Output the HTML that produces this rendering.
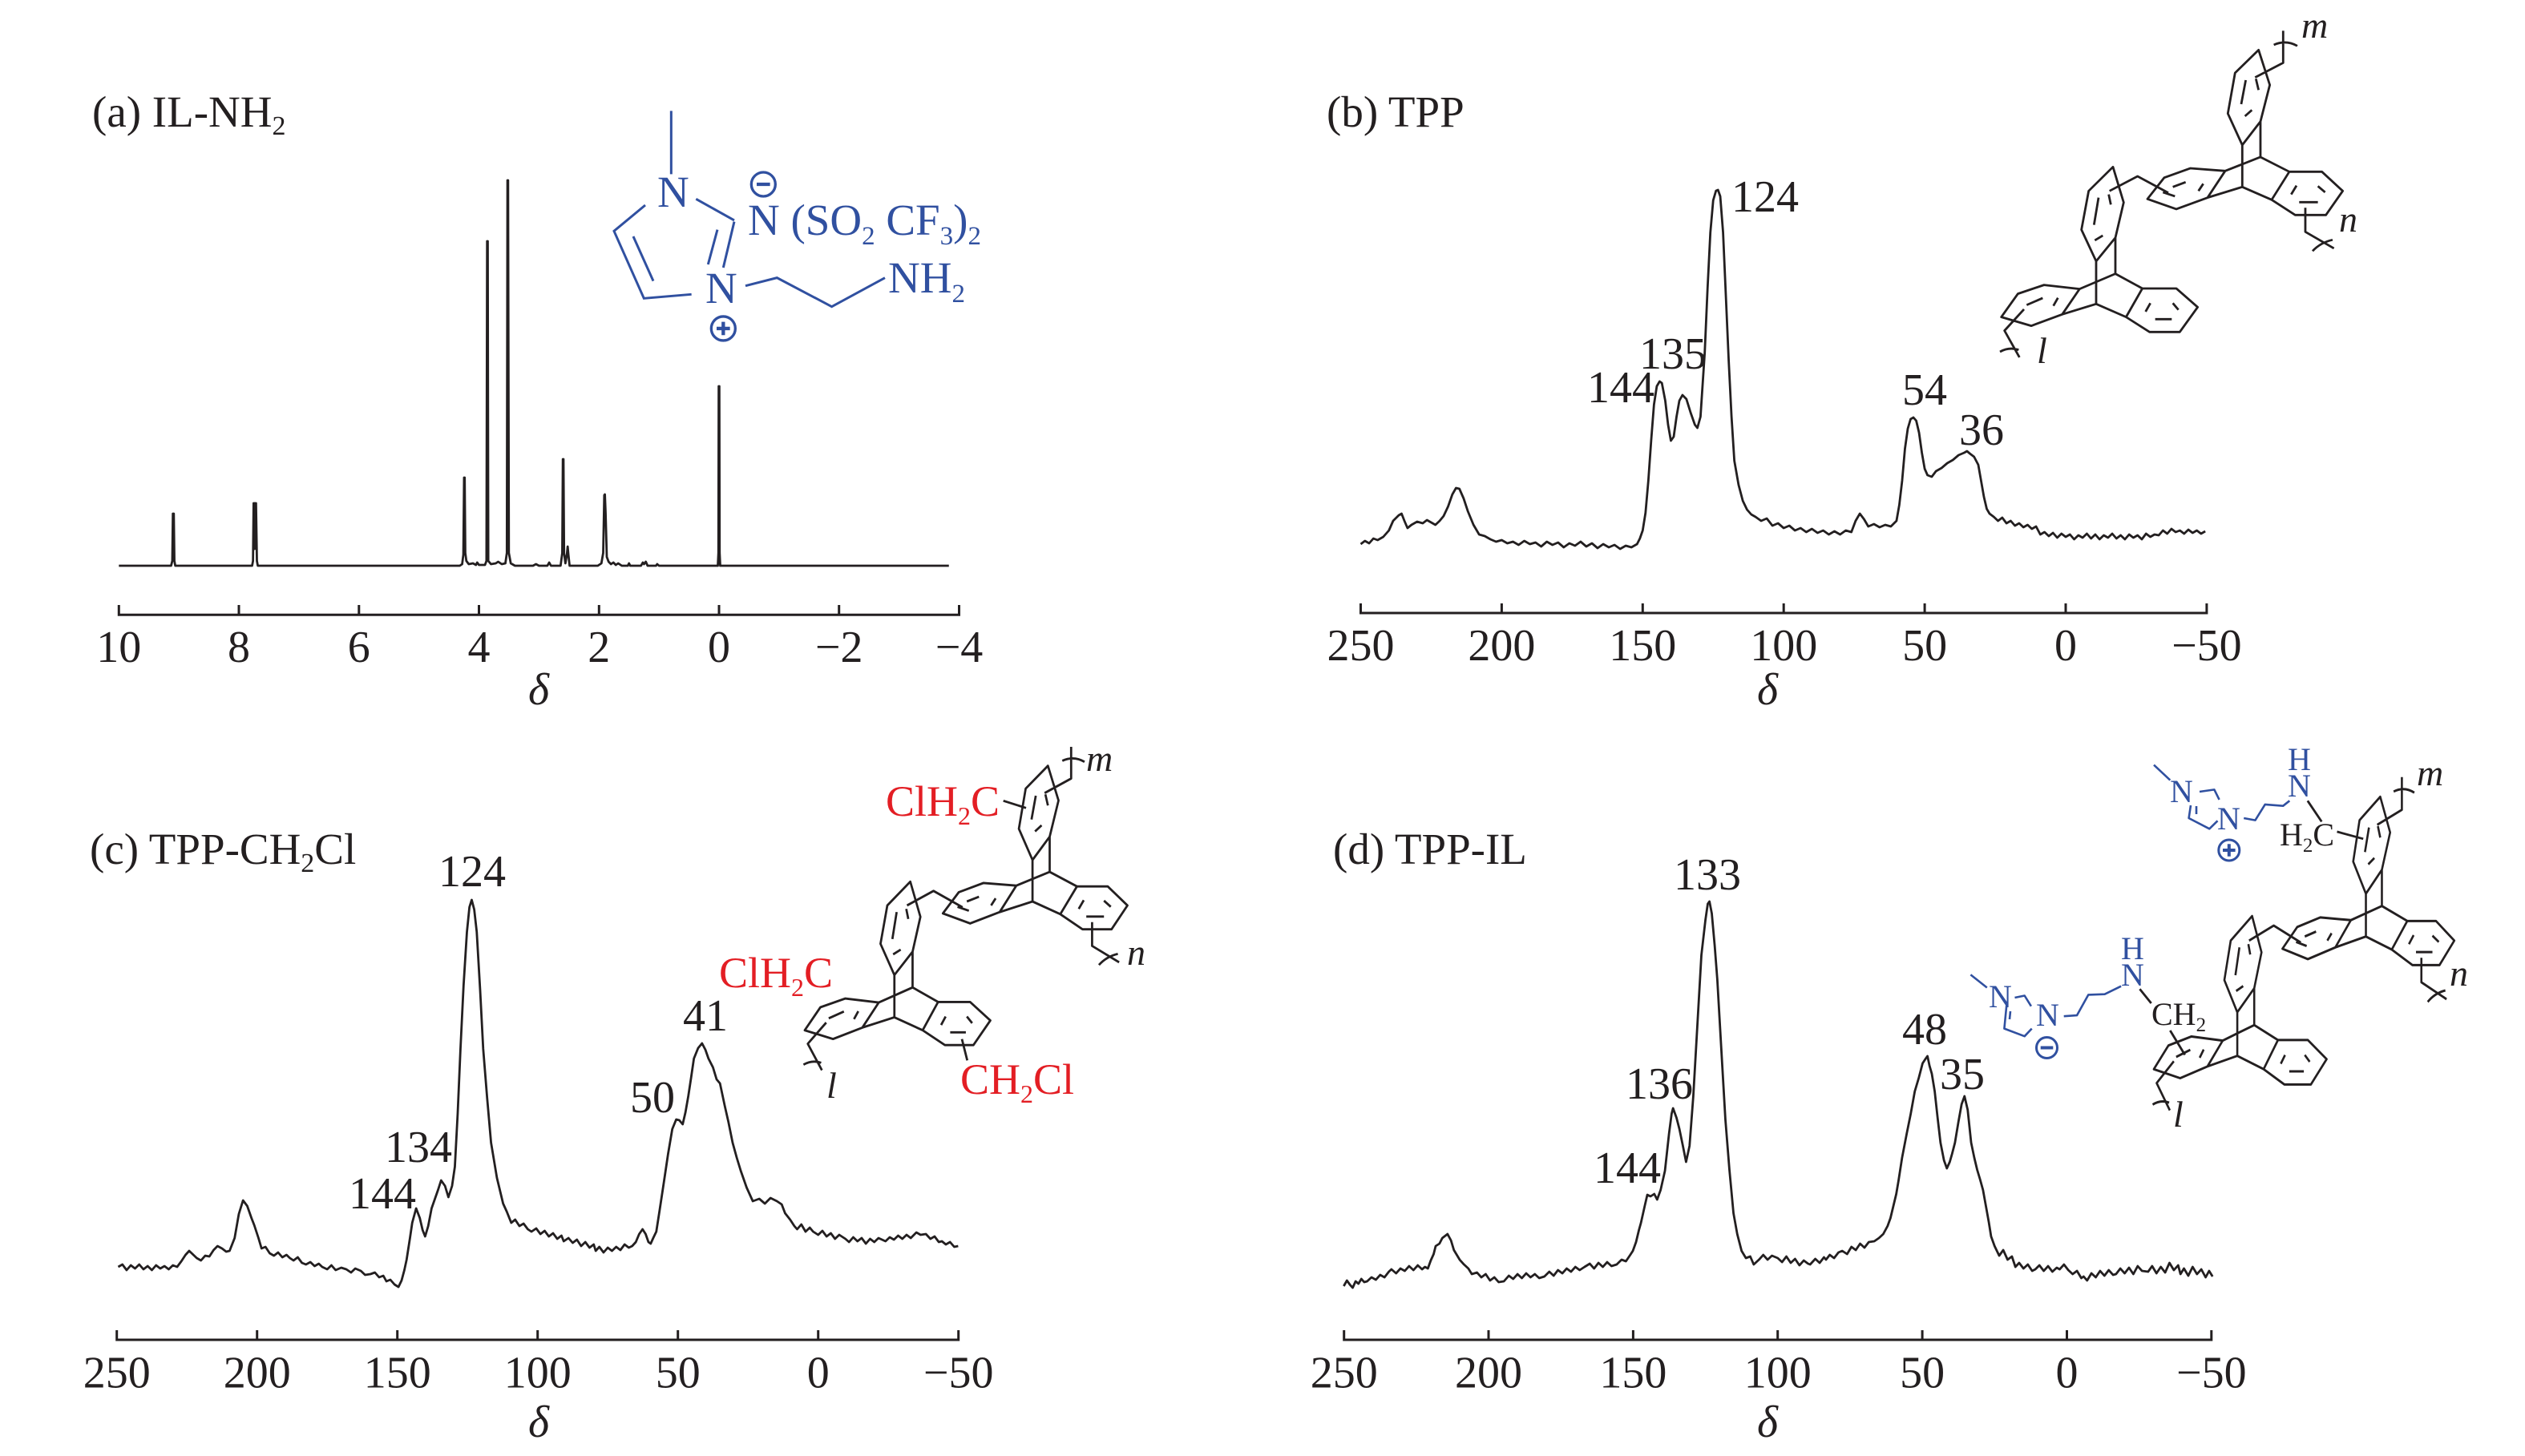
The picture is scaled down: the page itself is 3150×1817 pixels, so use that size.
<!DOCTYPE html>
<html><head><meta charset="utf-8"><style>
html,body{margin:0;padding:0;background:#fff;overflow:hidden}
svg{display:block}
text{font-family:"Liberation Serif","DejaVu Serif",serif;fill:#231f20}
.t{font-size:55px}
.k{font-size:56px}
.d{font-size:56px;font-style:italic}
.p{font-size:56px}
.it{font-size:46px;font-style:italic}
.bl{fill:#3050a0}
.rd{fill:#e31e24}
</style></head><body>
<svg width="3150" height="1817" viewBox="0 0 3150 1817" xmlns="http://www.w3.org/2000/svg">
<rect width="3150" height="1817" fill="#fff"/>
<defs>
<path id="tp" d="M1073 127 L1115 258 L1080 395 L1012 483 L958 365 L985 213 Z
M1025 240 L1008 330 M1048 352 L1022 375 M1063 235 L1073 277
M1012 483 L1012 640 M1080 395 L1080 528
M948 580 L1080 528 L1188 583
M882 680 L1012 640 L1122 688
M818 570 L948 580 L882 680 L765 723 L657 685 L720 605 Z
M752 640 L800 622 M848 655 L866 628 M715 660 L760 675
M1188 583 L1310 583 L1388 655 L1325 745 L1210 745 L1122 688 Z
M1195 668 L1215 635 M1295 637 L1322 660 M1225 697 L1295 697
M1248 718 L1248 808 L1355 870 M1275 880 Q1305 848 1350 838
M1060 230 L1165 175 L1165 55 M1130 108 Q1175 88 1218 112
M515 655 L620 600 L735 662
M528 565 L568 698 L537 830 L465 918 L410 800 L437 655 Z
M474 680 L457 782 M490 822 L460 840 M512 668 L520 706
M465 918 L465 1078 M537 830 L537 965
M403 1022 L537 965 L638 1020
M338 1117 L465 1078 L577 1127
M270 1007 L403 1022 L338 1117 L222 1160 L110 1127 L172 1040 Z
M205 1082 L265 1056 M305 1085 L322 1055
M195 1098 L122 1178 L178 1278 M105 1257 Q140 1238 175 1250
M638 1020 L765 1020 L845 1090 L778 1183 L665 1183 L577 1127 Z
M650 1107 L668 1075 M752 1075 L773 1100 M686 1135 L748 1135"/>
</defs>

<!-- ============ Panel (a) ============ -->
<text class="t" x="115" y="158">(a) IL-NH<tspan font-size="34" dy="10">2</tspan></text>
<g transform="matrix(-74.87 0 0 1 897 0)" fill="none" stroke="#231f20">
<path vector-effect="non-scaling-stroke" stroke-width="2.8" stroke-linejoin="round" d="M10 706 L9.13 706 L9.11 700 L9.10 641 L9.085 641 L9.075 700 L9.06 706 L7.78 706 L7.765 700 L7.755 628 L7.745 628 L7.737 685 L7.728 628 L7.715 628 L7.70 700 L7.685 706 L4.32 706 L4.28 704 L4.26 692 L4.248 596 L4.238 596 L4.228 690 L4.21 700 L4.17 704 L4.10 703 L4.05 705 L4.03 702 L4.00 705 L3.90 705 L3.875 700 L3.864 301 L3.854 301 L3.845 700 L3.80 704 L3.72 703 L3.68 701 L3.62 704 L3.56 703 L3.535 690 L3.525 225 L3.515 225 L3.502 690 L3.47 703 L3.40 706 L3.1 706 L3.05 704 L3.0 706 L2.86 706 L2.83 702 L2.80 706 L2.64 706 L2.612 690 L2.602 573 L2.592 573 L2.582 690 L2.56 703 L2.535 692 L2.522 682 L2.51 692 L2.49 706 L2.02 706 L1.96 703 L1.93 690 L1.912 618 L1.902 617 L1.89 640 L1.87 695 L1.84 701 L1.80 704 L1.76 702 L1.72 705 L1.68 703 L1.62 706 L1.52 706 L1.50 703 L1.48 706 L1.30 706 L1.27 702 L1.25 704 L1.22 701 L1.19 706 L1.05 706 L1.03 704 L1.0 706 L0.02 706 L0.01 690 L0.005 482 L-0.005 482 L-0.01 690 L-0.02 706 L-3.83 706"/>
</g>
<path fill="none" stroke="#231f20" stroke-width="3" d="M148.3 755V767.3H1196.5V755 M298 767.3V755 M447.8 767.3V755 M597.5 767.3V755 M747.3 767.3V755 M897 767.3V755 M1046.7 767.3V755"/>
<g class="k" text-anchor="middle">
<text x="148.3" y="826">10</text><text x="298" y="826">8</text><text x="447.8" y="826">6</text><text x="597.5" y="826">4</text><text x="747.3" y="826">2</text><text x="897" y="826">0</text><text x="1046.7" y="826">−2</text><text x="1196.5" y="826">−4</text>
</g>
<text class="d" x="672" y="879" text-anchor="middle">δ</text>
<!-- structure a -->
<g transform="matrix(0.3333 0 0 0.3333 740 120)" stroke="#3050a0" stroke-width="9" fill="none">
<path d="M292 55V292 M385 385L528 465 M528 470L487 642 M465 500L430 630 M368 742L190 757L78 505L195 408 M150 525L225 692 M570 710L688 680L893 788L1092 680"/>
<circle cx="637" cy="330" r="45" stroke-width="10"/><path d="M612 330H662" stroke-width="13"/>
<circle cx="487" cy="870" r="45" stroke-width="10"/><path d="M462 870H512M487 845V895" stroke-width="13"/>
</g>
<g class="t">
<text class="bl" x="820" y="258">N</text>
<text class="bl" x="880" y="378">N</text>
<text class="bl" x="933" y="293">N (SO<tspan font-size="33" dy="12">2</tspan><tspan dy="-12"> CF</tspan><tspan font-size="33" dy="12">3</tspan><tspan dy="-12">)</tspan><tspan font-size="33" dy="12">2</tspan></text>
<text class="bl" x="1108" y="365">NH<tspan font-size="33" dy="12">2</tspan></text>
</g>

<!-- ============ Panel (b) ============ -->
<text class="t" x="1655" y="158">(b) TPP</text>
<g transform="matrix(-3.518 0 0 1 2577 0)" fill="none" stroke="#231f20">
<path vector-effect="non-scaling-stroke" stroke-width="2.8" stroke-linejoin="round" d="M250 679 L248.5 675 L247 678 L245.5 672 L244 674 L242 670 L240 662 L238.5 650 L236.5 643 L235.5 641 L234.5 650 L233.4 659 L232 655 L230 651 L228 653 L226.5 649 L225 652 L223.5 655 L222 650 L220.6 644 L219 632 L217.5 617 L216.2 609 L215 610 L213.5 622 L212 638 L210 655 L208 667 L206 669 L204 673 L202 676 L200 674 L198 678 L196 676 L194 680 L192 675 L190 679 L188 677 L186 682 L184 676 L182 680 L180 677 L178 683 L176 678 L174 681 L172 676 L170 682 L168 678 L166 684 L164 679 L162 683 L160 680 L158 685 L156 681 L154 683 L152 679 L151 672 L150 662 L149 640 L148 600 L147 550 L146 505 L145 482 L144 476 L143.2 478 L142 500 L141 530 L140 550 L139 545 L138 520 L137 500 L135.9 493 L134.5 498 L133 515 L131.5 530 L130.6 534 L129.5 520 L128 440 L127 360 L126 290 L125 250 L124 238 L123.3 237 L122.5 245 L121.5 290 L120.5 370 L119.5 450 L118.5 520 L117.5 575 L116 605 L114.5 625 L113 636 L111.5 642 L110 645 L108 650 L106 647 L104 656 L102 653 L100 659 L98 656 L96 662 L94 659 L92 664 L90 660 L88 665 L86 662 L84 667 L82 663 L80 667 L78 662 L76 664 L74.5 650 L73 641 L71.5 648 L70 657 L68 654 L66 658 L64 655 L62 657 L60 650 L59 630 L58 600 L57 560 L56 535 L55 523 L54 521 L53 525 L52 540 L51 565 L50 585 L49 593 L47.5 595 L46 588 L44 584 L42 578 L40 574 L38 568 L36 565 L35 563 L34 566 L32.5 570 L31 580 L30 600 L29 620 L28 635 L27 641 L25.5 645 L24 650 L22.5 646 L21 653 L19.5 650 L18 656 L16.5 653 L15 658 L13.5 655 L12 660 L10.5 657 L9 667 L7.5 664 L6 669 L4.5 665 L3 671 L1.5 666 L0 670 L-1.5 667 L-3 673 L-4.5 668 L-6 671 L-7.5 666 L-9 672 L-10.5 667 L-12 673 L-13.5 668 L-15 671 L-16.5 666 L-18 672 L-19.5 668 L-21 673 L-22.5 667 L-24 671 L-25.5 668 L-27 673 L-28.5 666 L-30 670 L-31.5 667 L-33 668 L-34.5 662 L-36 666 L-37.5 660 L-39 664 L-40.5 662 L-42 666 L-43.5 661 L-45 665 L-46.5 662 L-48 666 L-49.5 663"/>
</g>
<path fill="none" stroke="#231f20" stroke-width="3" d="M1697.5 753V765H2752.9V753 M1873.4 765V753 M2049.3 765V753 M2225.2 765V753 M2401.1 765V753 M2577 765V753"/>
<g class="k" text-anchor="middle">
<text x="1697.5" y="824">250</text><text x="1873.4" y="824">200</text><text x="2049.3" y="824">150</text><text x="2225.2" y="824">100</text><text x="2401.1" y="824">50</text><text x="2577" y="824">0</text><text x="2752.9" y="824">−50</text>
</g>
<text class="d" x="2205" y="879" text-anchor="middle">δ</text>
<g class="p">
<text x="2160" y="264">124</text>
<text x="2045" y="460">135</text>
<text x="1980" y="502">144</text>
<text x="2373" y="505">54</text>
<text x="2444" y="555">36</text>
</g>
<use href="#tp" transform="matrix(0.3333 0 0 0.3333 2460 20)" fill="none" stroke="#231f20" stroke-width="8.4" stroke-linejoin="round"/>
<text class="it" x="2871" y="47">m</text>
<text class="it" x="2918" y="289">n</text>
<text class="it" x="2541" y="453">l</text>

<!-- ============ Panel (c) ============ -->
<text class="t" x="112" y="1078">(c) TPP-CH<tspan font-size="34" dy="10">2</tspan><tspan dy="-10">Cl</tspan></text>
<g transform="matrix(-3.5 0 0 1 1020.7 0)" fill="none" stroke="#231f20">
<path vector-effect="non-scaling-stroke" stroke-width="2.8" stroke-linejoin="round" d="M249.5 1581 L248 1578 L246.5 1585 L245 1579 L243.5 1583 L242 1578 L240.5 1584 L239 1580 L237.5 1585 L236 1579 L234.5 1583 L233 1580 L231.5 1584 L230 1579 L228.5 1581 L227 1574 L225.5 1566 L224.2 1561 L223 1565 L221.5 1570 L220 1573 L218.5 1567 L217 1568 L215.5 1560 L214.1 1555 L212.5 1558 L211 1562 L209.8 1561 L208 1545 L206.5 1515 L205 1498 L203.5 1505 L202 1520 L201 1529 L199.5 1545 L198.4 1558 L197 1556 L195.5 1564 L194 1567 L192.5 1563 L191 1569 L189.5 1566 L188.3 1570 L187 1573 L185.5 1569 L184 1576 L182.6 1578 L181 1575 L179.5 1580 L178 1577 L176.8 1581 L175 1584 L173.5 1579 L172 1585 L170 1582 L168.2 1584 L166.5 1588 L165 1583 L163 1586 L161.5 1591 L159.6 1590 L158 1588 L156.5 1594 L155 1592 L153.9 1599 L152.5 1597 L151 1603 L149.6 1606 L148.5 1598 L147.5 1585 L146.7 1572 L145.5 1545 L144.7 1526 L143.3 1508 L142 1520 L141 1535 L140.1 1543 L139 1530 L137.8 1508 L136.7 1497 L135.5 1485 L134.4 1473 L133 1480 L131.8 1494 L130.5 1480 L129.5 1456 L128.5 1390 L127.5 1309 L126.4 1230 L125.2 1163 L124.3 1132 L123.5 1123 L122.6 1135 L121.7 1163 L120.5 1235 L119.4 1309 L118 1370 L116.6 1426 L114.5 1470 L112.3 1502 L111 1512 L109.4 1526 L108 1522 L106.5 1530 L105 1527 L103.5 1534 L102.2 1537 L100.5 1533 L99 1540 L97.5 1536 L96 1543 L94.5 1539 L93 1546 L91.5 1542 L90.7 1549 L89 1545 L87.5 1551 L86 1547 L84.5 1555 L83 1550 L81.5 1557 L80 1553 L79.3 1561 L78 1556 L76.5 1563 L75 1557 L73.5 1561 L72 1556 L70.5 1560 L69 1553 L67.5 1557 L66.3 1555 L65 1550 L63.8 1540 L62.6 1534 L61.5 1540 L60.5 1550 L59.7 1552 L58.8 1545 L57.7 1537 L56.5 1510 L54.9 1473 L53.5 1440 L52 1409 L50.6 1397 L49.5 1398 L48.3 1403 L47.3 1388 L46.3 1368 L45.3 1345 L44.3 1321 L42.8 1308 L41.4 1302 L40.2 1310 L39.1 1321 L37.5 1332 L36.2 1347 L35 1352 L33.3 1380 L32 1400 L30.5 1426 L29 1445 L27.6 1461 L25.5 1482 L23.3 1499 L21 1496 L19 1502 L17 1495 L14.7 1499 L13 1503 L11.8 1514 L10 1522 L8.5 1530 L7.5 1534 L6 1528 L4.5 1537 L3 1532 L1.8 1537 L0 1541 L-1.5 1536 L-3 1543 L-4.5 1539 L-6 1546 L-7.5 1541 L-9.7 1546 L-11 1550 L-12.5 1544 L-14 1549 L-15.5 1545 L-17 1552 L-18.5 1546 L-20 1550 L-21.5 1545 L-24 1549 L-25.5 1544 L-27 1547 L-28.5 1542 L-30 1546 L-31.5 1541 L-33 1545 L-35 1538 L-36.5 1541 L-38.4 1540 L-40 1546 L-41.5 1543 L-43 1550 L-44.1 1549 L-45.5 1553 L-47 1550 L-48.5 1556 L-49.9 1555"/>
</g>
<path fill="none" stroke="#231f20" stroke-width="3" d="M145.7 1660V1672H1195.7V1660 M320.7 1672V1660 M495.7 1672V1660 M670.7 1672V1660 M845.7 1672V1660 M1020.7 1672V1660"/>
<g class="k" text-anchor="middle">
<text x="145.7" y="1731.5">250</text><text x="320.7" y="1731.5">200</text><text x="495.7" y="1731.5">150</text><text x="670.7" y="1731.5">100</text><text x="845.7" y="1731.5">50</text><text x="1020.7" y="1731.5">0</text><text x="1195.7" y="1731.5">−50</text>
</g>
<text class="d" x="672" y="1793" text-anchor="middle">δ</text>
<g class="p">
<text x="547" y="1106">124</text>
<text x="480" y="1450">134</text>
<text x="435" y="1508">144</text>
<text x="786" y="1388">50</text>
<text x="852" y="1286">41</text>
</g>
<use href="#tp" transform="matrix(0.315 0 0 0.33 969.3 913.8)" fill="none" stroke="#231f20" stroke-width="8.7" stroke-linejoin="round"/>
<path fill="none" stroke="#231f20" stroke-width="2.8" d="M1251.7 999.3L1280 1008.3 M1200 1296.7L1206.7 1323.3"/>
<g font-size="54">
<text class="rd" x="1105" y="1018">ClH<tspan font-size="32" dy="11">2</tspan><tspan dy="-11">C</tspan></text>
<text class="rd" x="897" y="1232">ClH<tspan font-size="32" dy="11">2</tspan><tspan dy="-11">C</tspan></text>
<text class="rd" x="1198" y="1365">CH<tspan font-size="32" dy="11">2</tspan><tspan dy="-11">Cl</tspan></text>
</g>
<text class="it" x="1355" y="962">m</text>
<text class="it" x="1406" y="1204">n</text>
<text class="it" x="1031" y="1370">l</text>

<!-- ============ Panel (d) ============ -->
<text class="t" x="1663" y="1078">(d) TPP-IL</text>
<g transform="matrix(-3.607 0 0 1 2578.45 0)" fill="none" stroke="#231f20">
<path vector-effect="non-scaling-stroke" stroke-width="2.8" stroke-linejoin="round" d="M250.1 1605 L249 1598 L248 1603 L247 1607 L246 1599 L245 1602 L244 1596 L243 1600 L242 1599 L240.5 1594 L239 1597 L237.5 1591 L236 1594 L234.5 1587 L233.6 1584 L232 1589 L230.5 1583 L229 1586 L227.5 1580 L226 1585 L224.5 1579 L223 1584 L222 1581 L221 1583 L220 1573 L219 1565 L218.3 1555 L217 1552 L216 1545 L214.2 1540 L213 1548 L212 1560 L210 1572 L208.5 1578 L207 1583 L205.8 1590 L204 1588 L202.5 1594 L201 1590 L199.5 1598 L198 1594 L196.5 1600 L194.7 1599 L193 1592 L191.5 1596 L190 1590 L188.5 1595 L187 1589 L185.5 1594 L184 1590 L182.5 1595 L180.7 1593 L179 1587 L177.5 1592 L176 1585 L174.5 1589 L173 1583 L171.5 1587 L170 1581 L168.5 1585 L166.8 1581 L165 1577 L163.5 1583 L162 1576 L160.5 1581 L159 1575 L157.5 1580 L155.7 1578 L154 1572 L152.5 1574 L151 1566 L150.1 1561 L149 1550 L148 1535 L147.3 1526 L146 1505 L145.1 1491 L144 1493 L142.7 1490 L141.7 1497 L140.5 1485 L139 1461 L137.6 1415 L136.7 1390 L136.2 1383 L135 1395 L134 1409 L132.8 1430 L131.7 1450 L130.5 1430 L129.2 1368 L127.8 1280 L126.4 1192 L125 1148 L124.2 1128 L123.6 1125 L122.8 1140 L121.8 1180 L120.9 1222 L119.5 1310 L118.1 1397 L116.7 1460 L115.3 1514 L114 1540 L112.5 1561 L111 1570 L109.5 1568 L108.3 1578 L106.5 1572 L105 1566 L103.5 1572 L102 1567 L100 1570 L98.5 1575 L97 1568 L95.5 1576 L94 1571 L92.5 1579 L91 1573 L89.5 1577 L88.8 1578 L87 1571 L85.5 1576 L84 1569 L83.3 1572 L82 1566 L80.5 1570 L79 1563 L77.7 1561 L76 1565 L74.5 1556 L73 1560 L71.5 1552 L70 1557 L68.5 1550 L66.6 1549 L65 1545 L63.5 1540 L62 1530 L61 1520 L60 1505 L59 1490 L58.2 1473 L57 1445 L55.4 1415 L54 1390 L52.6 1362 L51.2 1345 L49.9 1327 L49 1322 L48.2 1318 L47.5 1330 L46.7 1340 L45.7 1362 L44.7 1395 L43.7 1426 L42.5 1448 L41.5 1458 L40.5 1450 L39.7 1440 L38.7 1426 L37.5 1400 L36.4 1378 L35.4 1368 L34.3 1385 L33.1 1426 L32 1445 L31 1460 L30 1472 L29 1485 L28 1505 L27 1525 L26.2 1543 L25 1555 L23.4 1567 L22 1560 L20.5 1572 L19 1568 L17.8 1581 L16.5 1576 L15 1583 L13.5 1578 L12 1586 L10.9 1584 L9.5 1579 L8 1586 L6.5 1580 L5 1587 L3.5 1582 L2.5 1584 L1 1578 L-0.5 1585 L-2 1590 L-3.5 1586 L-5 1595 L-5.8 1593 L-7 1598 L-8.5 1589 L-10 1594 L-11.5 1586 L-13 1592 L-14.5 1585 L-16 1591 L-17 1590 L-18.5 1583 L-20 1589 L-21.5 1582 L-23 1590 L-24.5 1580 L-26 1586 L-28.1 1587 L-29.5 1580 L-31 1589 L-32.5 1581 L-34 1588 L-35.5 1576 L-37 1585 L-38.5 1579 L-39.3 1590 L-40.5 1583 L-42 1592 L-43.5 1581 L-45 1590 L-46.5 1584 L-48 1594 L-49.2 1586 L-50.4 1593"/>
</g>
<path fill="none" stroke="#231f20" stroke-width="3" d="M1676.7 1660V1672H2758.8V1660 M1857 1672V1660 M2037.4 1672V1660 M2217.7 1672V1660 M2398.1 1672V1660 M2578.5 1672V1660"/>
<g class="k" text-anchor="middle">
<text x="1676.7" y="1731.5">250</text><text x="1857" y="1731.5">200</text><text x="2037.4" y="1731.5">150</text><text x="2217.7" y="1731.5">100</text><text x="2398.1" y="1731.5">50</text><text x="2578.5" y="1731.5">0</text><text x="2758.8" y="1731.5">−50</text>
</g>
<text class="d" x="2205" y="1793" text-anchor="middle">δ</text>
<g class="p">
<text x="2088" y="1110">133</text>
<text x="2028" y="1371">136</text>
<text x="1988" y="1476">144</text>
<text x="2373" y="1303">48</text>
<text x="2420" y="1359">35</text>
</g>
<use href="#tp" transform="matrix(0.2933 0 0 0.34 2654.7 951.1)" fill="none" stroke="#231f20" stroke-width="8.8" stroke-linejoin="round"/>
<path fill="none" stroke="#3050a0" stroke-width="2.6" stroke-linejoin="round" d="M2687 954.6L2707.3 973.6 M2733 1005L2730.6 1021L2756.3 1034.3L2766.5 1024.3 M2744 988L2762.4 985.4L2768.6 997.9 M2740 1006L2740 1016 M2799.2 1021L2813.5 1023.6L2825.7 1003.9L2848.2 1005.7L2856.3 999.3 M2458.4 1216.4L2478.8 1232.5 M2503.3 1254L2500.4 1283.6L2525.7 1293.2L2534.7 1283.6 M2513.5 1245L2525.7 1242.5L2533.9 1255.7 M2508 1262L2507 1272 M2574.7 1268.2L2591 1267.1L2605.3 1241.4L2625.7 1240.7L2646.1 1230.7"/>
<circle cx="2780.8" cy="1061" r="13" fill="none" stroke="#3050a0" stroke-width="3"/>
<path d="M2773 1061H2788.6M2780.8 1053.2V1068.8" stroke="#3050a0" stroke-width="4"/>
<circle cx="2553.5" cy="1307.5" r="13" fill="none" stroke="#3050a0" stroke-width="3"/>
<path d="M2545.7 1307.5H2561.3" stroke="#3050a0" stroke-width="4"/>
<path fill="none" stroke="#231f20" stroke-width="2.8" d="M2878.8 999.3L2896.3 1025.4 M2915.5 1037.9L2948.2 1046.8 M2669.4 1234.3L2683.7 1252 M2707.3 1286L2725.7 1316.4"/>
<g font-size="40">
<text class="bl" x="2707" y="1001">N</text>
<text class="bl" x="2766" y="1035">N</text>
<text class="bl" x="2854" y="994">N</text>
<text class="bl" x="2854" y="961">H</text>
<text class="bl" x="2481" y="1257">N</text>
<text class="bl" x="2540" y="1280">N</text>
<text class="bl" x="2646" y="1230">N</text>
<text class="bl" x="2646" y="1197">H</text>
<text x="2844" y="1055">H<tspan font-size="25" dy="8">2</tspan><tspan dy="-8">C</tspan></text>
<text x="2684" y="1279">CH<tspan font-size="25" dy="8">2</tspan></text>
</g>
<text class="it" x="3015" y="980">m</text>
<text class="it" x="3056" y="1230">n</text>
<text class="it" x="2711" y="1406">l</text>
</svg>
</body></html>
